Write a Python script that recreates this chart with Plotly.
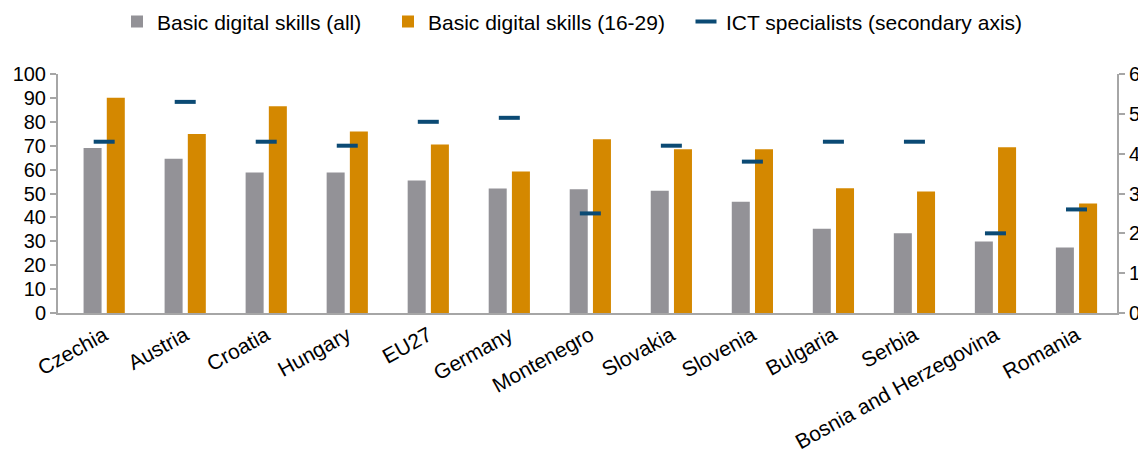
import plotly.graph_objects as go

countries = ["Czechia", "Austria", "Croatia", "Hungary", "EU27", "Germany", "Montenegro",
             "Slovakia", "Slovenia", "Bulgaria", "Serbia", "Bosnia and Herzegovina", "Romania"]
basic_all = [69.0, 64.5, 58.8, 58.8, 55.4, 52.1, 51.8, 51.1, 46.5, 35.2, 33.4, 29.9, 27.4]
basic_young = [90.1, 74.9, 86.5, 75.9, 70.5, 59.2, 72.7, 68.5, 68.5, 52.2, 50.8, 69.4, 45.8]
ict_specialists = [4.3, 5.3, 4.3, 4.2, 4.8, 4.9, 2.5, 4.2, 3.8, 4.3, 4.3, 2.0, 2.6]

FONT = "Liberation Sans, Arial, sans-serif"
GRAY = "#939297"
ORANGE = "#d48800"
BLUE = "#0b4a74"
AXIS = "#a6a6a6"

fig = go.Figure()
fig.add_trace(go.Bar(x=countries, y=basic_all, name="Basic digital skills (all)",
                     marker=dict(color=GRAY, line=dict(width=0)), legend="legend"))
fig.add_trace(go.Bar(x=countries, y=basic_young, name="Basic digital skills (16-29)",
                     marker=dict(color=ORANGE, line=dict(width=0)), legend="legend2"))
fig.add_trace(go.Scatter(x=countries, y=ict_specialists, name="ICT specialists (secondary axis)",
                         mode="markers", yaxis="y2", legend="legend3",
                         marker=dict(symbol="line-ew", size=15, color=BLUE,
                                     line=dict(color=BLUE, width=4))))

leg_common = dict(orientation="h", xref="container", yref="container", y=0.97,
                  yanchor="middle", xanchor="left", font=dict(size=21), bgcolor="rgba(0,0,0,0)")

fig.update_layout(
    width=1146, height=460,
    margin=dict(l=50, r=37, t=66, b=155),
    paper_bgcolor="white", plot_bgcolor="white",
    font=dict(family=FONT, size=20, color="black"),
    barmode="group", bargap=0.427, bargroupgap=0.224,
    showlegend=True,
    legend=dict(x=109 / 1146, **leg_common),
    legend2=dict(x=380 / 1146, **leg_common),
    legend3=dict(x=678 / 1146, **leg_common),
    xaxis=dict(type="category", range=[-0.57, 12.5], showline=True, linecolor=AXIS, linewidth=2,
               ticks="", tickangle=-29, tickfont=dict(size=21), showgrid=False, automargin=False),
    yaxis=dict(range=[0, 100], dtick=10, showline=True, linecolor=AXIS, linewidth=2,
               ticks="outside", ticklen=6, tickcolor=AXIS, tickwidth=2, showgrid=False,
               zeroline=False, tickfont=dict(size=20), automargin=False),
    yaxis2=dict(range=[0, 6], dtick=1, overlaying="y", side="right", showline=True,
                linecolor=AXIS, linewidth=2, ticks="outside", ticklen=6, tickcolor=AXIS,
                tickwidth=2, showgrid=False, zeroline=False, tickfont=dict(size=20),
                automargin=False),
)

fig.write_html("out.html")
